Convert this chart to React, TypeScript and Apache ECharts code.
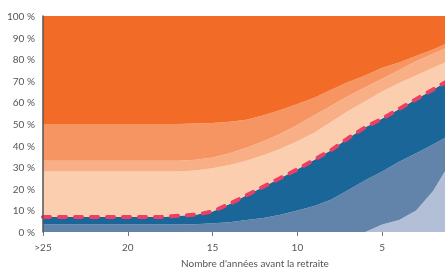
import React, { useEffect, useRef } from "react";
import * as echarts from "echarts";

// Years before retirement (25 = ">25"); the axis runs to 0 (cropped at the right edge)
const years = [25, 24, 23, 22, 21, 20, 19, 18, 17, 16, 15, 14, 13, 12, 11, 10, 9, 8, 7, 6, 5, 4, 3, 2, 1, 0];
const xTickLabels: Record<string, string> = { "25": ">25", "20": "20", "15": "15", "10": "10", "5": "5" };
const xAxisTitle = "Nombre d'années avant la retraite";

// Stacked layers, bottom to top (percent), years 25 → 1
const lightBlue = [0, 0, 0, 0, 0, 0, 0, 0, 0, 0, 0, 0, 0, 0, 0, 0, 0, 0, 0, 0, 3.5, 5.5, 10, 19, 32];
const mediumBlue = [3.5, 3.5, 3.5, 3.5, 3.5, 3.5, 3.5, 3.5, 3.5, 3.6, 4, 4.5, 5.5, 6.5, 8, 10, 12, 15, 19.5, 24, 24.5, 27, 26.5, 21.5, 13];
const darkBlue = [3.5, 3.5, 3.5, 3.5, 3.5, 3.5, 3.5, 3.5, 4, 4.4, 5.5, 8.5, 11.5, 14.5, 17, 19, 21.5, 23, 24, 24.5, 24.5, 24.5, 25, 25.5, 25.5];
const peach = [21, 21, 21, 21, 21, 21, 21, 21, 20.5, 20.5, 20, 18, 16, 14.5, 13.5, 13, 12.5, 13, 12.5, 12, 12.5, 12, 11, 10, 9];
const lightSalmon = [5, 5, 5, 5, 5, 5, 5, 5, 5, 5, 5, 5.5, 6, 6.5, 7, 7.5, 8, 7.5, 7, 6.5, 6, 6, 6.5, 6.5, 6.5];
const salmon = [17, 17, 17, 17, 17, 17, 17, 17, 17, 16.7, 16, 14.5, 13, 12, 11, 9.8, 8.2, 7.3, 6.5, 5.5, 5, 3.5, 2.5, 2, 2];
const orange = [50, 50, 50, 50, 50, 50, 50, 50, 50, 49.8, 49.5, 49, 48, 46, 43.5, 40.7, 37.8, 34.2, 30.5, 27.5, 24, 21.5, 18.5, 15.5, 12];
// Dashed line
const dashed = [7, 7, 7, 7, 7, 7, 7, 7, 7.5, 8, 9.5, 13, 17, 21, 25, 29, 33.5, 38, 43.5, 48.5, 52.5, 57, 61.5, 66, 70.5];

const layers = [
  { name: "l1", data: lightBlue, color: "#B3BFD7" },
  { name: "l2", data: mediumBlue, color: "#6283AA" },
  { name: "l3", data: darkBlue, color: "#1A6698" },
  { name: "l4", data: peach, color: "#FBCEAF" },
  { name: "l5", data: lightSalmon, color: "#F9AF85" },
  { name: "l6", data: salmon, color: "#F79562" },
  { name: "l7", data: orange, color: "#F26C27" },
];

export default function App() {
  const ref = useRef<HTMLDivElement>(null);
  useEffect(() => {
    if (!ref.current) return;
    const chart = echarts.init(ref.current, null, { renderer: "svg" });
    const font = "Lato, 'Open Sans', sans-serif";
    const showTick = (_i: number, v: string) => Number(v) % 5 === 0;
    const showLabel = (_i: number, v: string) => xTickLabels[v] !== undefined;
    const series: any[] = layers.map((l) => ({
      name: l.name,
      type: "line",
      stack: "total",
      data: l.data,
      symbol: "none",
      lineStyle: { width: 0 },
      areaStyle: { color: l.color, opacity: 1 },
      itemStyle: { color: l.color },
      z: 2,
    }));
    series.push({
      name: "dashed",
      type: "line",
      data: dashed,
      symbol: "none",
      lineStyle: { color: "#EC3F64", width: 4, type: [7, 9], cap: "round" },
      z: 5,
    });
    chart.setOption({
      animation: false,
      grid: { left: 43, top: 16, bottom: 37, right: -22, containLabel: false, outerBoundsMode: "none" },
      xAxis: {
        type: "category",
        data: years.map(String),
        boundaryGap: false,
        name: xAxisTitle,
        nameLocation: "middle",
        nameGap: 26,
        nameTextStyle: { color: "#555", fontSize: 10, fontFamily: font },
        axisLine: { show: false },
        axisTick: { show: true, length: 4, interval: showTick, lineStyle: { color: "#777" } },
        axisLabel: {
          color: "#555",
          fontSize: 10,
          fontFamily: font,
          margin: 10,
          interval: showLabel,
          formatter: (v: string) => xTickLabels[v] ?? "",
        },
        splitLine: { show: false },
      },
      yAxis: {
        type: "value",
        min: 0,
        max: 100,
        interval: 10,
        axisLine: { show: true, lineStyle: { color: "#555", width: 1.5 } },
        axisTick: { show: false },
        axisLabel: { color: "#555", fontSize: 10, fontFamily: font, margin: 8, formatter: "{value} %" },
        splitLine: { show: false },
        z: 10,
      },
      series,
    });
    return () => chart.dispose();
  }, []);
  return <div ref={ref} style={{ position: "fixed", left: 0, top: 0, width: 445, height: 269 }} />;
}
